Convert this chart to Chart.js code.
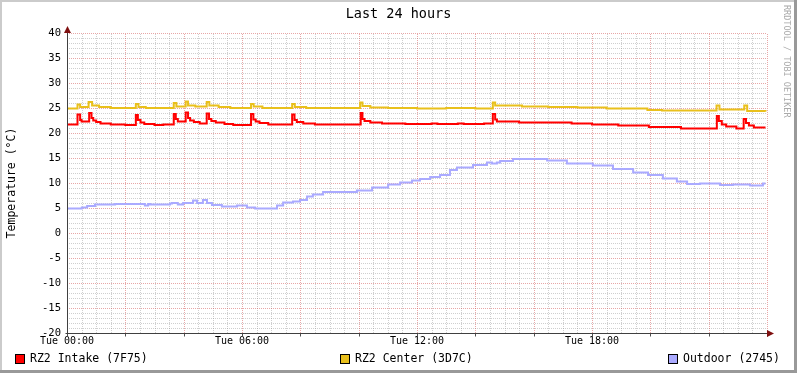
<!DOCTYPE html>
<html><head><meta charset="utf-8">
<script src="https://cdn.jsdelivr.net/npm/chart.js@4"></script>
<style>html,body{margin:0;padding:0;background:#fff;}canvas{display:block}</style>
</head><body>
<canvas id="c" width="797" height="373"></canvas>
<script>
const chartTitle = 'Last 24 hours';
const yAxisTitle = 'Temperature (°C)';
const watermark = 'RRDTOOL / TOBI OETIKER';
const xTickValues = [0, 6, 12, 18];
const xTickLabels = ['Tue 00:00', 'Tue 06:00', 'Tue 12:00', 'Tue 18:00'];
const seriesNames = ['RZ2 Intake (7F75)', 'RZ2 Center (3D7C)', 'Outdoor (2745)'];

// hours since Tue 00:00 / temperature (°C); each value holds until the next time
const intakeTimes = [0,0.36,0.45,0.5,0.76,0.84,0.9,1.0,1.15,1.5,2.0,2.36,2.43,2.52,2.65,3.0,3.3,3.66,3.73,3.8,4.07,4.15,4.22,4.35,4.55,4.79,4.87,4.95,5.1,5.4,5.7,6.31,6.39,6.47,6.6,6.9,7.72,7.8,7.88,8.1,8.5,10.07,10.13,10.2,10.4,10.8,11.6,12.5,12.7,13.4,13.6,14.3,14.6,14.68,14.74,15.5,17.3,18.0,18.9,19.95,21.05,22.28,22.35,22.45,22.6,22.95,23.2,23.28,23.38,23.55,23.95];
const intakeVals  = [21.7,23.7,22.6,22.3,24.0,23.0,22.5,22.2,21.9,21.7,21.6,23.6,22.6,22.1,21.8,21.6,21.7,23.8,22.8,22.3,24.1,23.0,22.5,22.2,21.9,23.9,22.8,22.4,22.1,21.8,21.6,23.8,22.7,22.3,22.0,21.7,23.7,22.6,22.2,21.9,21.7,24.0,22.8,22.4,22.1,21.9,21.8,21.9,21.8,21.9,21.8,21.9,23.8,22.7,22.3,22.1,21.9,21.7,21.5,21.2,20.9,23.4,22.4,21.7,21.3,20.9,22.8,22.0,21.5,21.1,21.1];

const centerTimes = [0,0.36,0.45,0.74,0.86,1.1,1.5,2.36,2.45,2.7,3.66,3.75,4.07,4.15,4.4,4.79,4.88,5.2,5.6,6.31,6.4,6.7,7.72,7.81,8.2,10.05,10.13,10.4,11.0,12.0,13.0,14.0,14.6,14.68,15.6,16.5,17.5,18.5,19.9,20.4,22.27,22.37,23.22,23.32,23.95];
const centerVals  = [24.9,25.7,25.2,26.2,25.5,25.2,25.0,25.8,25.2,25.0,26.0,25.3,26.3,25.5,25.3,26.2,25.5,25.2,25.0,25.8,25.3,25.0,25.8,25.2,25.0,26.1,25.4,25.1,25.0,24.9,25.0,24.9,26.1,25.5,25.3,25.2,25.1,24.9,24.6,24.5,25.5,24.7,25.5,24.4,24.3];

const outdoorTimes = [0,0.51,0.69,0.96,1.65,2.67,2.78,2.85,3.53,3.6,3.8,3.98,4.32,4.46,4.66,4.8,4.97,5.31,5.83,6.17,6.45,7.2,7.41,7.75,7.99,8.23,8.43,8.78,9.94,10.46,11.01,11.42,11.83,12.1,12.45,12.79,13.13,13.37,13.92,14.4,14.57,14.74,14.85,15.29,16.46,17.14,18.03,18.72,19.41,19.92,20.43,20.91,21.26,21.7,22.39,22.83,23.42,23.86,23.95];
const outdoorVals  = [4.9,5.1,5.4,5.7,5.8,5.5,5.8,5.7,5.9,6.0,5.7,6.0,6.5,6.0,6.6,6.0,5.6,5.3,5.5,5.1,4.9,5.5,6.1,6.3,6.6,7.3,7.7,8.2,8.5,9.1,9.7,10.1,10.5,10.8,11.2,11.6,12.6,13.1,13.6,14.1,13.9,14.1,14.4,14.8,14.5,13.9,13.5,12.8,12.1,11.6,10.9,10.3,9.8,9.9,9.6,9.7,9.5,9.9,9.9];

const seriesColors = ['#FF0000', '#E9C01C', '#AAAAFF'];
const MONO = '"DejaVu Sans Mono", "Liberation Mono", monospace';

function pts(t, v) { return t.map((x, i) => ({ x: x, y: v[i] })); }

const rrdPlugin = {
  id: 'rrd',
  beforeDraw(chart) {
    const ctx = chart.ctx, W = chart.width, H = chart.height;
    ctx.save();
    ctx.fillStyle = '#ffffff';
    ctx.fillRect(0, 0, W, H);
    ctx.fillStyle = '#cbcbcb';
    ctx.fillRect(0, 0, W, 2);
    ctx.fillRect(0, 0, 2, H);
    ctx.fillStyle = '#999999';
    ctx.fillRect(W - 3, 0, 3, H);
    ctx.fillRect(0, H - 3, W, 3);
    ctx.restore();
  },
  beforeDatasetsDraw(chart) {
    const ctx = chart.ctx, xs = chart.scales.x, ys = chart.scales.y, a = chart.chartArea;
    ctx.save();
    ctx.lineWidth = 1;
    ctx.setLineDash([1, 1]);
    ctx.strokeStyle = 'rgba(140,140,140,0.42)';
    ctx.beginPath();
    for (let h = 0.5; h <= 24; h += 0.5) {
      if (Math.abs(h / 2 - Math.round(h / 2)) < 1e-6) continue;
      const px = Math.round(xs.getPixelForValue(h)) + 0.5;
      ctx.moveTo(px, a.bottom); ctx.lineTo(px, a.top);
    }
    for (let v = -19; v <= 40; v++) {
      if (v % 5 === 0) continue;
      const py = Math.round(ys.getPixelForValue(v)) + 0.5;
      ctx.moveTo(a.left, py); ctx.lineTo(a.right, py);
    }
    ctx.stroke();
    ctx.strokeStyle = 'rgba(205,60,60,0.45)';
    ctx.beginPath();
    for (let h = 2; h <= 24; h += 2) {
      const px = Math.round(xs.getPixelForValue(h)) + 0.5;
      ctx.moveTo(px, a.bottom); ctx.lineTo(px, a.top);
    }
    for (let v = -15; v <= 40; v += 5) {
      const py = Math.round(ys.getPixelForValue(v)) + 0.5;
      ctx.moveTo(a.left, py); ctx.lineTo(a.right, py);
    }
    ctx.stroke();
    ctx.restore();
  },
  afterDatasetsDraw(chart) {
    const ctx = chart.ctx, xs = chart.scales.x, ys = chart.scales.y, a = chart.chartArea;
    ctx.save();
    const x0 = Math.round(xs.getPixelForValue(0)) + 0.5;
    const y0 = Math.round(ys.getPixelForValue(-20)) + 0.5;
    ctx.strokeStyle = '#505050';
    ctx.lineWidth = 1;
    ctx.beginPath();
    for (let h = 0; h <= 24; h += 2) {
      const px = Math.round(xs.getPixelForValue(h)) + 0.5;
      ctx.moveTo(px, y0); ctx.lineTo(px, y0 + 3);
    }
    ctx.stroke();
    ctx.strokeStyle = '#404040';
    ctx.beginPath();
    ctx.moveTo(x0, y0); ctx.lineTo(x0, a.top - 4);
    ctx.moveTo(x0 - 2, y0); ctx.lineTo(a.right + 4, y0);
    ctx.stroke();
    ctx.fillStyle = '#7F1010';
    ctx.beginPath();
    ctx.moveTo(x0, a.top - 7); ctx.lineTo(x0 - 3.5, a.top); ctx.lineTo(x0 + 3.5, a.top); ctx.closePath();
    ctx.fill();
    ctx.beginPath();
    ctx.moveTo(a.right + 7, y0); ctx.lineTo(a.right, y0 - 3.5); ctx.lineTo(a.right, y0 + 3.5); ctx.closePath();
    ctx.fill();
    ctx.restore();
  },
  afterDraw(chart) {
    const ctx = chart.ctx;
    ctx.save();
    const legendX = [15, 340, 668];
    const ly = 354;
    ctx.font = '11.5px ' + MONO;
    ctx.textBaseline = 'middle';
    ctx.textAlign = 'left';
    chart.data.datasets.forEach((ds, i) => {
      ctx.fillStyle = ds.borderColor;
      ctx.fillRect(legendX[i], ly, 9, 9);
      ctx.strokeStyle = '#000';
      ctx.lineWidth = 1;
      ctx.strokeRect(legendX[i] + 0.5, ly + 0.5, 9, 9);
      ctx.fillStyle = '#000';
      ctx.fillText(ds.label, legendX[i] + 15, ly + 5);
    });
    ctx.translate(786, 5);
    ctx.rotate(Math.PI / 2);
    ctx.font = '8.5px ' + MONO;
    ctx.fillStyle = '#aaaaaa';
    ctx.textBaseline = 'middle';
    ctx.fillText(watermark, 0, 0);
    ctx.restore();
  }
};

new Chart(document.getElementById('c'), {
  type: 'line',
  data: {
    datasets: [
      { label: seriesNames[0], data: pts(intakeTimes, intakeVals), borderColor: seriesColors[0] },
      { label: seriesNames[1], data: pts(centerTimes, centerVals), borderColor: seriesColors[1] },
      { label: seriesNames[2], data: pts(outdoorTimes, outdoorVals), borderColor: seriesColors[2] }
    ].map(d => Object.assign(d, { borderWidth: 2, pointRadius: 0, stepped: 'before', fill: false, tension: 0, borderCapStyle: 'butt', borderJoinStyle: 'miter' }))
  },
  options: {
    responsive: false,
    animation: false,
    devicePixelRatio: 1,
    layout: { padding: { left: 0, right: 0, top: 0, bottom: 0 } },
    plugins: {
      legend: { display: false },
      tooltip: { enabled: false },
      title: {
        display: true, text: chartTitle, color: '#000',
        font: { family: MONO, size: 13.5, weight: 'normal', lineHeight: 1.2 },
        padding: { top: 6, bottom: 10.8 }
      }
    },
    scales: {
      x: {
        type: 'linear', min: 0, max: 24,
        grid: { display: false, drawTicks: false, tickLength: 0 }, border: { display: false },
        afterBuildTicks: s => { s.ticks = xTickValues.map(v => ({ value: v })); },
        ticks: {
          autoSkip: false, maxRotation: 0, padding: 2, color: '#000',
          font: { family: MONO, size: 10 },
          callback: v => xTickLabels[xTickValues.indexOf(v)]
        },
        afterFit: s => { s.height = 40; }
      },
      y: {
        min: -20, max: 40,
        grid: { display: false, drawTicks: false, tickLength: 0 }, border: { display: false },
        ticks: { stepSize: 5, padding: 6, color: '#000', font: { family: MONO, size: 10.5 } },
        title: {
          display: true, text: yAxisTitle, color: '#000',
          font: { family: MONO, size: 11.5 }, padding: { top: 5, bottom: 0 }
        },
        afterFit: s => { s.width = 67; }
      },
      yRight: {
        position: 'right', min: -20, max: 40,
        grid: { display: false, drawTicks: false }, border: { display: false },
        ticks: { display: false },
        afterFit: s => { s.width = 30; }
      }
    }
  },
  plugins: [rrdPlugin]
});
</script>
</body></html>
